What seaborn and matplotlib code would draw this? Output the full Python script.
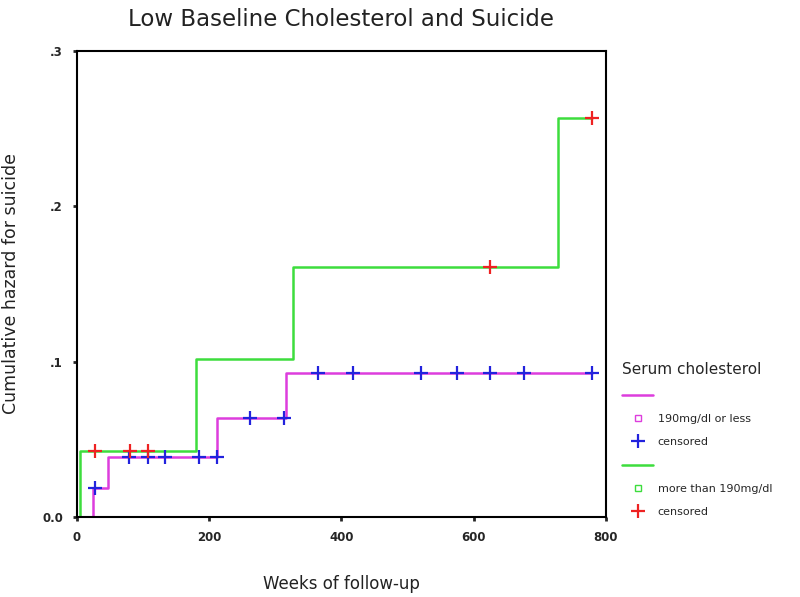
import numpy as np
import pandas as pd
import matplotlib
matplotlib.use("Agg")
import matplotlib.pyplot as plt
import seaborn as sns
from matplotlib.lines import Line2D

# step curves (weeks, cumulative hazard)
low_weeks = [24, 24, 47, 212, 316, 779]
low_hazard = [0.0, 0.0187, 0.0386, 0.0637, 0.0924, 0.0924]
high_weeks = [4.5, 4.5, 180, 327, 728, 779]
high_hazard = [0.0, 0.0425, 0.1017, 0.161, 0.257, 0.257]

# censored observations
low_cens_weeks = [28, 79, 107, 133, 185, 212, 262, 313, 364, 417, 520, 575, 625, 676, 779]
low_cens_hazard = [0.0187, 0.0386, 0.0386, 0.0386, 0.0386, 0.0386, 0.0637, 0.0637,
                   0.0924, 0.0924, 0.0924, 0.0924, 0.0924, 0.0924, 0.0924]
high_cens_weeks = [27, 80, 107, 625, 779]
high_cens_hazard = [0.0425, 0.0425, 0.0425, 0.161, 0.257]

pink = "#dd3ddd"
green = "#3ddd3d"
blue = "#2222dd"
red = "#ee2222"

sns.set_style("white")
plt.rcParams["font.family"] = ["DejaVu Sans"]

fig = plt.figure(figsize=(8, 5.97), dpi=100)
ax = fig.add_axes([0.096, 0.134, 0.6615, 0.7806])

low = pd.DataFrame({"week": low_weeks, "hazard": low_hazard})
high = pd.DataFrame({"week": high_weeks, "hazard": high_hazard})
sns.lineplot(data=low, x="week", y="hazard", ax=ax, color=pink, lw=1.8,
             drawstyle="steps-post", estimator=None, sort=False)
sns.lineplot(data=high, x="week", y="hazard", ax=ax, color=green, lw=1.8,
             drawstyle="steps-post", estimator=None, sort=False)

lc = pd.DataFrame({"week": low_cens_weeks, "hazard": low_cens_hazard})
hc = pd.DataFrame({"week": high_cens_weeks, "hazard": high_cens_hazard})
sns.scatterplot(data=lc, x="week", y="hazard", ax=ax, marker="+", s=110,
                color=blue, linewidth=1.6, zorder=5)
sns.scatterplot(data=hc, x="week", y="hazard", ax=ax, marker="+", s=110,
                color=red, linewidth=1.6, zorder=5)

ax.set_xlim(0, 800)
ax.set_ylim(0, 0.3)
ax.set_xticks([0, 200, 400, 600, 800])
ax.set_yticks([0, 0.1, 0.2, 0.3])
ax.set_yticklabels(["0.0", ".1", ".2", ".3"])
ax.tick_params(axis="both", labelsize=8.5, length=3, width=2, direction="out",
               left=True, bottom=True, pad=7)
for lab in ax.get_xticklabels() + ax.get_yticklabels():
    lab.set_fontweight("bold")
for sp in ax.spines.values():
    sp.set_color("black")
    sp.set_linewidth(1.5)

ax.set_xlabel("Weeks of follow-up", fontsize=12, color="#222222")
ax.xaxis.set_label_coords(0.5, -0.125)
ax.set_ylabel("Cumulative hazard for suicide", fontsize=12.5, color="#222222")
ax.yaxis.set_label_coords(-0.108, 0.5)
ax.set_title("Low Baseline Cholesterol and Suicide", fontsize=16.5, color="#222222", pad=18)

handles = [
    Line2D([], [], color=pink, lw=1.8),
    Line2D([], [], marker="s", ls="", markerfacecolor="none", markeredgecolor=pink, ms=5),
    Line2D([], [], marker="+", ls="", color=blue, ms=10, mew=1.6),
    Line2D([], [], color=green, lw=1.8),
    Line2D([], [], marker="s", ls="", markerfacecolor="none", markeredgecolor=green, ms=5),
    Line2D([], [], marker="+", ls="", color=red, ms=10, mew=1.6),
]
labels = ["", "190mg/dl or less", "censored", "", "more than 190mg/dl", "censored"]
leg = fig.legend(handles, labels, title="Serum cholesterol", loc="upper left",
                 bbox_to_anchor=(0.765, 0.41), frameon=False, fontsize=8,
                 title_fontsize=11, handlelength=2.8, labelspacing=1.2,
                 handletextpad=0.4, alignment="left")

fig.savefig("out.png", dpi=100)
